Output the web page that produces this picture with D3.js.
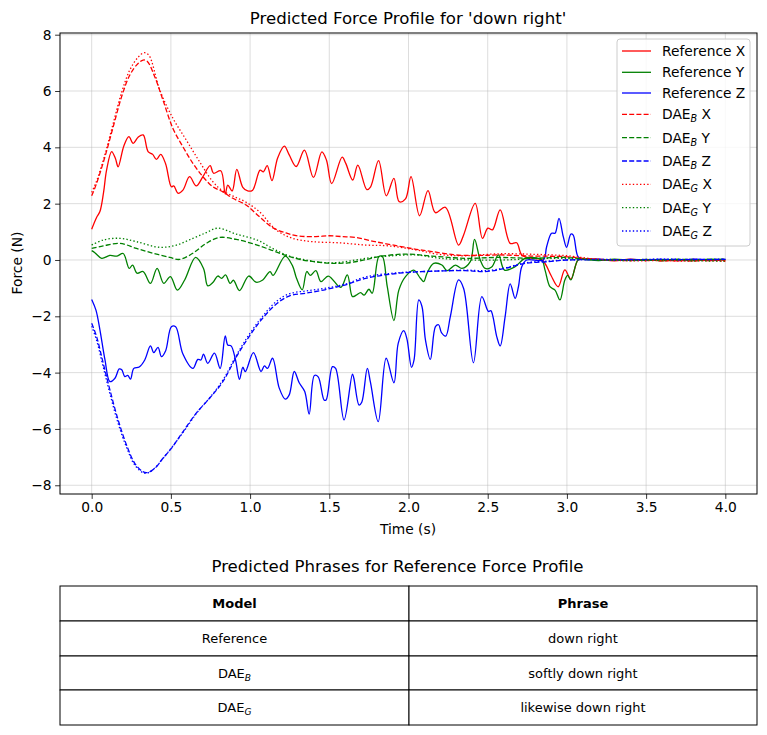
<!DOCTYPE html>
<html>
<head>
<meta charset="utf-8">
<script src="https://cdn.jsdelivr.net/npm/d3@7/dist/d3.min.js"></script>
<style>
  body { margin: 0; background: #fff; }
  text { font-family: "DejaVu Sans", sans-serif; fill: #000; }
</style>
</head>
<body>
<svg id="chart" width="767" height="735"></svg>
<script>
// [time (s), force (N)]
var refX = [[0,1.09],[0.03,1.5],[0.052,1.72],[0.075,2.4],[0.094,3.19],[0.126,3.85],[0.15,3.6],[0.167,3.31],
  [0.203,4.05],[0.235,4.38],[0.262,4.14],[0.293,4.36],[0.325,4.44],[0.356,3.85],[0.385,3.75],[0.409,3.57],
  [0.436,3.75],[0.467,3.41],[0.503,2.6],[0.518,2.63],[0.545,2.37],[0.576,2.48],[0.618,2.96],[0.66,2.63],
  [0.702,2.96],[0.748,3.35],[0.769,3.08],[0.815,3.17],[0.843,2.34],[0.859,2.66],[0.887,2.45],[0.916,3.22],
  [0.954,2.58],[0.985,2.45],[1.016,2.48],[1.063,3.19],[1.084,3.13],[1.108,3.35],[1.138,2.82],[1.174,3.62],
  [1.216,4.04],[1.247,3.73],[1.291,3.32],[1.343,3.9],[1.4,2.93],[1.453,3.84],[1.482,3.55],[1.515,2.71],
  [1.581,3.65],[1.604,3.43],[1.648,2.84],[1.68,3.37],[1.737,2.5],[1.761,2.6],[1.811,3.53],[1.86,2.28],
  [1.908,2.9],[1.941,2.07],[1.981,2.17],[2.016,2.96],[2.07,1.57],[2.123,2.46],[2.17,1.68],[2.233,1.87],
  [2.316,0.53],[2.348,0.89],[2.421,2.01],[2.467,0.77],[2.501,1.13],[2.53,1.07],[2.579,1.78],[2.642,0.59],
  [2.683,0.61],[2.715,0.18],[2.777,0.06],[2.84,0.02],[2.87,-0.2],[2.9,-0.55],[2.945,-0.95],[2.987,-0.35],
  [3.025,-0.68],[3.07,0],[3.1,0.03],[3.2,0.02],[3.3,-0.03],[3.4,0.03],[3.5,-0.02],[3.6,0.01],[3.7,-0.03],
  [3.8,0.02],[3.9,-0.02],[4.0,0.01]];

var refY = [[0,0.33],[0.02,0.26],[0.063,0.06],[0.115,0.16],[0.16,0.14],[0.199,0.23],[0.237,-0.3],[0.258,-0.18],
  [0.287,-0.47],[0.325,-0.41],[0.371,-0.83],[0.413,-0.3],[0.455,-0.83],[0.497,-0.59],[0.541,-1.07],[0.587,-0.71],
  [0.656,0.09],[0.706,-0.3],[0.733,-0.92],[0.765,-0.8],[0.796,-0.57],[0.82,-0.65],[0.845,-0.53],[0.874,-0.83],
  [0.895,-0.72],[0.933,-1.09],[0.991,-0.57],[1.038,-0.79],[1.08,-0.71],[1.126,-0.41],[1.145,-0.55],[1.222,0.14],
  [1.268,-0.21],[1.293,-0.65],[1.329,-1.06],[1.358,-0.41],[1.38,-0.55],[1.415,-0.38],[1.447,-0.77],[1.494,-0.57],
  [1.572,-0.97],[1.614,-0.53],[1.646,-1.3],[1.67,-1.25],[1.698,-1.16],[1.72,-1.25],[1.75,-1.04],[1.771,-1.18],
  [1.813,0.12],[1.835,0.12],[1.866,-0.95],[1.908,-2.15],[1.939,-1.07],[1.981,-0.59],[2.033,-0.36],[2.075,-0.65],
  [2.096,-0.77],[2.117,-0.47],[2.159,-0.12],[2.211,-0.18],[2.243,-0.38],[2.296,-0.18],[2.337,-0.3],[2.39,-0.06],
  [2.417,0.73],[2.453,0],[2.484,-0.3],[2.525,-0.25],[2.568,0.18],[2.606,-0.36],[2.673,-0.24],[2.736,0.06],
  [2.84,0],[2.862,-0.36],[2.893,-0.95],[2.925,-1.07],[2.956,-1.42],[2.987,-0.71],[3.005,-0.55],[3.025,-0.71],
  [3.07,0],[3.1,0.02],[3.2,-0.02],[3.3,0.03],[3.4,-0.01],[3.5,0.02],[3.6,-0.03],[3.7,0.02],[3.8,-0.02],
  [3.9,0.03],[4.0,0.0]];

var refZ = [[0,-1.4],[0.027,-1.78],[0.052,-2.48],[0.084,-3.55],[0.115,-4.32],[0.147,-4.2],[0.174,-3.87],[0.19,-3.9],
  [0.209,-4.14],[0.228,-4.1],[0.245,-4.23],[0.266,-3.85],[0.3,-3.8],[0.335,-3.55],[0.371,-3.05],[0.392,-3.29],
  [0.419,-3.1],[0.44,-3.43],[0.467,-3.22],[0.503,-2.37],[0.53,-2.37],[0.576,-3.34],[0.639,-3.85],[0.67,-3.53],
  [0.69,-3.55],[0.706,-3.34],[0.733,-3.67],[0.775,-3.31],[0.811,-3.85],[0.843,-2.7],[0.859,-3.02],[0.88,-3.05],
  [0.908,-3.55],[0.933,-4.24],[0.954,-3.81],[0.97,-3.96],[1.021,-3.29],[1.069,-3.96],[1.09,-3.76],[1.11,-3.85],
  [1.142,-3.49],[1.184,-4.55],[1.222,-4.94],[1.247,-4.79],[1.279,-3.96],[1.31,-4.36],[1.345,-4.67],[1.373,-5.47],
  [1.406,-4.1],[1.43,-4.15],[1.467,-4.97],[1.48,-4.97],[1.52,-3.79],[1.54,-3.85],[1.593,-5.68],[1.646,-4.05],
  [1.655,-4.2],[1.688,-5.15],[1.705,-5.05],[1.74,-3.85],[1.76,-4.35],[1.809,-5.74],[1.859,-3.49],[1.908,-4.36],
  [1.935,-2.96],[1.97,-2.51],[1.99,-2.8],[2.019,-3.81],[2.035,-3.55],[2.065,-1.42],[2.085,-1.65],[2.107,-2.84],
  [2.138,-3.53],[2.17,-2.37],[2.19,-2.3],[2.208,-2.58],[2.235,-2.7],[2.264,-2.01],[2.316,-0.71],[2.348,-1.01],
  [2.41,-3.65],[2.463,-1.3],[2.505,-1.83],[2.52,-1.8],[2.557,-2.72],[2.579,-3.05],[2.61,-2.01],[2.642,-0.85],
  [2.673,-1.36],[2.694,-0.95],[2.715,-0.24],[2.746,0],[2.851,0],[2.872,0.47],[2.903,0.95],[2.925,0.95],
  [2.95,1.48],[2.977,0.83],[2.998,0.45],[3.025,0.92],[3.04,0.88],[3.07,0.12],[3.1,0.02],[3.2,0.03],[3.3,-0.01],
  [3.4,0.02],[3.5,0.0],[3.6,0.02],[3.7,-0.01],[3.8,0.03],[3.9,0.01],[4.0,0.02]];

var daeBX = [[0,2.28],[0.031,2.72],[0.084,3.67],[0.136,4.73],[0.189,5.8],[0.241,6.57],[0.293,6.98],[0.325,7.1],
  [0.35,7.06],[0.398,6.51],[0.45,5.68],[0.513,4.67],[0.576,4.02],[0.639,3.43],[0.702,2.96],[0.765,2.6],
  [0.828,2.42],[0.891,2.19],[0.975,1.95],[1.058,1.54],[1.142,1.15],[1.226,0.96],[1.31,0.85],[1.415,0.83],
  [1.5,0.86],[1.58,0.83],[1.667,0.8],[1.79,0.65],[1.94,0.49],[2.048,0.38],[2.148,0.3],[2.296,0.18],[2.45,0.16],
  [2.568,0.18],[2.776,0.14],[2.987,0.12],[3.1,0.06],[3.2,0.02],[3.3,0.0],[3.4,-0.02],[3.5,0.01],[3.6,-0.03],
  [3.7,-0.01],[3.8,-0.03],[3.9,0.0],[4.0,-0.02]];

var daeBY = [[0,0.41],[0.073,0.5],[0.178,0.59],[0.283,0.41],[0.388,0.24],[0.493,0.09],[0.555,0.02],[0.639,0.24],
  [0.723,0.59],[0.807,0.8],[0.912,0.73],[1.016,0.58],[1.121,0.38],[1.226,0.16],[1.331,0],[1.436,-0.08],
  [1.52,-0.12],[1.62,-0.1],[1.72,0],[1.813,0.12],[1.981,0.21],[2.148,0.14],[2.358,0.06],[2.568,0.09],
  [2.776,0.06],[2.987,0.09],[3.15,0.02],[3.3,0.01],[3.5,-0.01],[3.7,0.02],[3.9,0.01],[4.0,0.03]];

var daeBZ = [[0,-2.25],[0.031,-2.72],[0.073,-3.67],[0.115,-4.61],[0.167,-5.68],[0.22,-6.57],[0.272,-7.22],
  [0.321,-7.51],[0.35,-7.55],[0.398,-7.4],[0.45,-7.04],[0.503,-6.69],[0.576,-6.1],[0.66,-5.44],[0.744,-4.91],
  [0.828,-4.32],[0.912,-3.45],[0.996,-2.7],[1.079,-2.07],[1.164,-1.57],[1.247,-1.28],[1.352,-1.18],
  [1.478,-1.05],[1.604,-0.88],[1.73,-0.65],[1.94,-0.47],[2.148,-0.4],[2.358,-0.38],[2.484,-0.41],[2.61,-0.3],
  [2.736,-0.12],[2.88,-0.06],[3.0,0],[3.2,0.01],[3.4,0.0],[3.6,0.02],[3.8,0.01],[4.0,0.02]];

var daeGX = [[0,2.4],[0.031,2.8],[0.084,3.75],[0.136,4.85],[0.189,5.95],[0.241,6.75],[0.293,7.2],[0.33,7.36],
  [0.36,7.28],[0.43,6.03],[0.513,5.03],[0.597,4.26],[0.681,3.49],[0.765,2.78],[0.828,2.45],[0.9,2.25],
  [0.975,2.05],[1.058,1.72],[1.164,1.07],[1.268,0.77],[1.394,0.65],[1.56,0.61],[1.73,0.53],[1.876,0.5],
  [2.044,0.36],[2.19,0.2],[2.35,0.15],[2.568,0.22],[2.8,0.2],[3.0,0.15],[3.15,0.05],[3.3,-0.01],[3.45,-0.03],
  [3.6,-0.02],[3.75,-0.04],[3.9,-0.02],[4.0,-0.05]];

var daeGY = [[0,0.53],[0.073,0.71],[0.178,0.77],[0.283,0.65],[0.43,0.45],[0.535,0.53],[0.639,0.77],[0.723,0.97],
  [0.796,1.13],[0.912,0.92],[1.048,0.7],[1.142,0.41],[1.247,0.14],[1.352,0],[1.46,-0.09],[1.56,-0.09],
  [1.667,0],[1.771,0.09],[1.876,0.14],[2.044,0.18],[2.2,0.06],[2.4,0],[2.6,0],[2.8,0.05],[3.0,0.05],
  [3.2,0.0],[3.4,-0.02],[3.6,0.0],[3.8,-0.03],[4.0,-0.04]];

var daeGZ = [[0,-2.35],[0.031,-2.85],[0.073,-3.8],[0.115,-4.75],[0.167,-5.8],[0.22,-6.65],[0.272,-7.28],
  [0.33,-7.57],[0.36,-7.55],[0.41,-7.32],[0.46,-6.98],[0.52,-6.55],[0.59,-6.02],[0.67,-5.38],[0.75,-4.86],
  [0.83,-4.25],[0.912,-3.4],[0.996,-2.63],[1.079,-2.0],[1.164,-1.48],[1.247,-1.2],[1.352,-1.1],[1.478,-1.0],
  [1.604,-0.85],[1.73,-0.6],[1.94,-0.45],[2.148,-0.4],[2.358,-0.36],[2.484,-0.38],[2.61,-0.28],[2.736,-0.1],
  [2.88,-0.04],[3.0,0],[3.2,0.02],[3.4,0.01],[3.6,0.03],[3.8,0.02],[4.0,0.03]];

var xTicks = [0, 0.5, 1, 1.5, 2, 2.5, 3, 3.5, 4];
var yTicks = [-8, -6, -4, -2, 0, 2, 4, 6, 8];

var tableHeader = ["Model", "Phrase"];
var tableModels = [["Reference", null], ["DAE", "B"], ["DAE", "G"]];
var tablePhrases = ["down right", "softly down right", "likewise down right"];

// series drawn in the same order as the legend
var series = [
  {data: refX,  name: "Reference", sub: null, axis: "X", color: "#ff0000", dash: null},
  {data: refY,  name: "Reference", sub: null, axis: "Y", color: "#008000", dash: null},
  {data: refZ,  name: "Reference", sub: null, axis: "Z", color: "#0000ff", dash: null},
  {data: daeBX, name: "DAE", sub: "B", axis: "X", color: "#ff0000", dash: "5,2.2"},
  {data: daeBY, name: "DAE", sub: "B", axis: "Y", color: "#008000", dash: "5,2.2"},
  {data: daeBZ, name: "DAE", sub: "B", axis: "Z", color: "#0000ff", dash: "5,2.2"},
  {data: daeGX, name: "DAE", sub: "G", axis: "X", color: "#ff0000", dash: "1.4,2.2"},
  {data: daeGY, name: "DAE", sub: "G", axis: "Y", color: "#008000", dash: "1.4,2.2"},
  {data: daeGZ, name: "DAE", sub: "G", axis: "Z", color: "#0000ff", dash: "1.4,2.2"}
];

var svg = d3.select("#chart");
// plot box edges (window.top is read only, so no "top" here)
var plotLeft = 60, plotRight = 757, plotTop = 33, plotBottom = 494;

var x = d3.scaleLinear().domain([-0.2, 4.2]).range([plotLeft, plotRight]);
var y = d3.scaleLinear().domain([-8.31, 8.06]).range([plotBottom, plotTop]);

// grid
var grid = svg.append("g").attr("stroke", "#b0b0b0").attr("stroke-opacity", 0.55).attr("stroke-width", 0.8);
grid.selectAll(".gx").data(xTicks).enter().append("line")
  .attr("x1", d => x(d)).attr("x2", d => x(d)).attr("y1", plotTop).attr("y2", plotBottom);
grid.selectAll(".gy").data(yTicks).enter().append("line")
  .attr("y1", d => y(d)).attr("y2", d => y(d)).attr("x1", plotLeft).attr("x2", plotRight);

// lines
var plot = svg.append("g");
plot.append("clipPath").attr("id", "clip").append("rect")
  .attr("x", plotLeft).attr("y", plotTop).attr("width", plotRight - plotLeft).attr("height", plotBottom - plotTop);

var line = d3.line()
  .x(d => x(d[0]))
  .y(d => y(d[1]))
  .curve(d3.curveCatmullRom.alpha(0.5));

series.forEach(function(s) {
  plot.append("path")
    .attr("clip-path", "url(#clip)")
    .attr("d", line(s.data))
    .attr("fill", "none")
    .attr("stroke", s.color)
    .attr("stroke-width", 1.3)
    .attr("stroke-dasharray", s.dash);
});

// axes
var xAxis = d3.axisBottom(x).tickValues(xTicks).tickFormat(d3.format(".1f")).tickSize(4.9).tickPadding(3.5);
var yAxis = d3.axisLeft(y).tickValues(yTicks).tickFormat(d3.format("d")).tickSize(4.9).tickPadding(3.5);

var gx = svg.append("g").attr("transform", "translate(0," + plotBottom + ")").call(xAxis);
var gy = svg.append("g").attr("transform", "translate(" + plotLeft + ",0)").call(yAxis);
[gx, gy].forEach(function(g) {
  g.select(".domain").remove();
  g.selectAll("text").style("font-size", "13.8px").attr("fill", "#000");
  g.selectAll("line").attr("stroke", "#000").attr("stroke-width", 0.8);
});

svg.append("rect")
  .attr("x", plotLeft).attr("y", plotTop).attr("width", plotRight - plotLeft).attr("height", plotBottom - plotTop)
  .attr("fill", "none").attr("stroke", "#000").attr("stroke-width", 1);

// titles and labels
svg.append("text").attr("x", 408).attr("y", 24).attr("text-anchor", "middle")
  .style("font-size", "16.6px").text("Predicted Force Profile for 'down right'");
svg.append("text").attr("x", 408).attr("y", 534).attr("text-anchor", "middle")
  .style("font-size", "13.8px").text("Time (s)");
svg.append("text").attr("transform", "translate(22,263) rotate(-90)").attr("text-anchor", "middle")
  .style("font-size", "13.8px").text("Force (N)");

// writes "DAE" with an italic subscript like the mathtext labels
function labelText(sel, name, sub, tail, size) {
  sel.text(name);
  if (sub) {
    sel.append("tspan").attr("dy", size * 0.22).style("font-size", (size * 0.7) + "px")
      .style("font-style", "italic").text(sub);
    sel.append("tspan").attr("dy", -size * 0.22).text(tail);
  } else if (tail) {
    sel.append("tspan").text(tail);
  }
}

// legend
var legend = svg.append("g");
legend.append("rect")
  .attr("x", 617).attr("y", 39).attr("width", 133).attr("height", 207).attr("rx", 3)
  .attr("fill", "#fff").attr("fill-opacity", 0.8).attr("stroke", "#cccccc").attr("stroke-width", 1);

var legendY = [51, 72.3, 93, 114.3, 137.7, 161, 184.3, 207.7, 231];
series.forEach(function(s, i) {
  var ly = legendY[i];
  legend.append("line").attr("x1", 622).attr("x2", 651).attr("y1", ly).attr("y2", ly)
    .attr("stroke", s.color).attr("stroke-width", 1.3).attr("stroke-dasharray", s.dash);
  var t = legend.append("text").attr("x", 662).attr("y", ly).attr("dy", "0.36em").style("font-size", "13.8px");
  labelText(t, s.name, s.sub, " " + s.axis, 13.8);
});

// table of predicted phrases
svg.append("text").attr("x", 397.5).attr("y", 572).attr("text-anchor", "middle")
  .style("font-size", "16.6px").text("Predicted Phrases for Reference Force Profile");

var rowTop = [586, 621, 656, 690];
var rowBottom = 725;
var colX = [60, 409, 757];
var table = svg.append("g");

rowTop.forEach(function(r, i) {
  var h = (i < rowTop.length - 1 ? rowTop[i + 1] : rowBottom) - r;
  for (var c = 0; c < 2; c++) {
    table.append("rect").attr("x", colX[c]).attr("y", r).attr("width", colX[c + 1] - colX[c]).attr("height", h)
      .attr("fill", "#fff").attr("stroke", "#000").attr("stroke-width", 1);
    var cell = table.append("text").attr("x", (colX[c] + colX[c + 1]) / 2).attr("y", r + h / 2)
      .attr("dy", "0.36em").attr("text-anchor", "middle").style("font-size", "13px");
    if (i === 0) {
      cell.style("font-weight", "bold").text(tableHeader[c]);
    } else if (c === 0) {
      labelText(cell, tableModels[i - 1][0], tableModels[i - 1][1], "", 13);
    } else {
      cell.text(tablePhrases[i - 1]);
    }
  }
});
</script>
</body>
</html>
